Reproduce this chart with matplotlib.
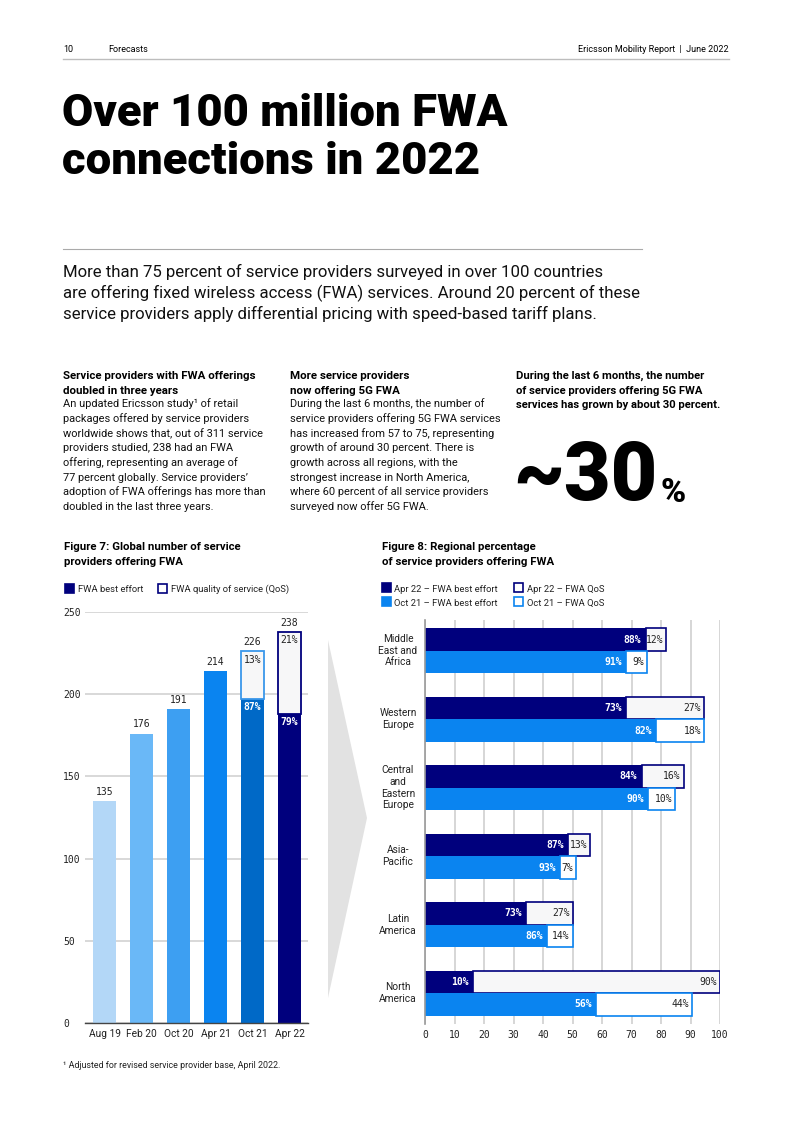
import matplotlib
matplotlib.use('Agg')
import matplotlib.pyplot as plt
from matplotlib.patches import Polygon, Rectangle
from matplotlib.lines import Line2D

# ---------------- data ----------------
periods = ['Aug 19', 'Feb 20', 'Oct 20', 'Apr 21', 'Oct 21', 'Apr 22']
totals = [135, 176, 191, 214, 226, 238]
global_best_effort = [135, 176, 191, 214, 197, 188]
global_qos = [0, 0, 0, 0, 29, 50]
global_be_pct = ['', '', '', '', '87%', '79%']
global_qos_pct = ['', '', '', '', '13%', '21%']

regions = ['Middle\nEast and\nAfrica', 'Western\nEurope', 'Central\nand\nEastern\nEurope',
           'Asia-\nPacific', 'Latin\nAmerica', 'North\nAmerica']
apr22_be = [74.8, 68.1, 73.4, 48.4, 34.2, 16.3]
apr22_qos = [6.9, 26.5, 14.3, 7.7, 15.8, 83.7]
oct21_be = [68.1, 78.2, 75.7, 45.9, 41.3, 57.9]
oct21_qos = [7.0, 16.4, 9.1, 5.2, 8.7, 32.6]
apr22_be_lbl = ['88%', '73%', '84%', '87%', '73%', '10%']
apr22_qos_lbl = ['12%', '27%', '16%', '13%', '27%', '90%']
oct21_be_lbl = ['91%', '82%', '90%', '93%', '86%', '56%']
oct21_qos_lbl = ['9%', '18%', '10%', '7%', '14%', '44%']

# ---------------- styling ----------------
NAVY = '#00007d'
BLUE = '#0a84f0'
bar_colors = ['#b3d7f7', '#6ab8f7', '#3d9ff2', '#0a84f0', '#0069c7', NAVY]
qos_edges = [None, None, None, None, '#3a97ea', NAVY]
QOS_FILL = '#f7f7f8'
SANS = 'Roboto'
MONO = 'DejaVu Sans Mono'

W, H = 793, 1122
fig = plt.figure(figsize=(W / 100, H / 100), dpi=100)
renderer = fig.canvas.get_renderer()
PT = 100 / 72.0  # px per point


def fx(x):
    return x / W


def fy(y):
    return 1 - y / H


def fit_size(s, width, weight='normal', family=SANS):
    t = fig.text(0, 0, s, fontsize=10, fontweight=weight, family=family)
    w = t.get_window_extent(renderer).width
    t.remove()
    return 10 * width / w


def txt(x, y, s, size, weight='normal', family=SANS, ha='left', va='baseline', color='black'):
    return fig.text(fx(x), fy(y), s, fontsize=size, fontweight=weight, family=family,
                    ha=ha, va=va, color=color)


def hline(x0, x1, y, color, lw):
    fig.add_artist(Line2D([fx(x0), fx(x1)], [fy(y), fy(y)], transform=fig.transFigure,
                          color=color, lw=lw))


def square(x, y, size, face, edge):
    fig.add_artist(Rectangle((fx(x), fy(y + size)), size / W, size / H, transform=fig.transFigure,
                             facecolor=face, edgecolor=edge, lw=1.2))


# ---------------- header ----------------
hs = fit_size('Ericsson Mobility Report  |  June 2022', 151)
txt(63, 52, '10', hs)
txt(108, 52, 'Forecasts', hs)
txt(729, 52, 'Ericsson Mobility Report  |  June 2022', hs, ha='right')
hline(63, 729, 59, '#bdbdbd', 1.0)

# ---------------- title ----------------
ts = fit_size('Over 100 million FWA', 445, weight='black')
txt(62, 126, 'Over 100 million FWA', ts, weight='black')
txt(62, 174, 'connections in 2022', ts, weight='black')
hline(63, 642, 249, '#aaaaaa', 0.8)

# ---------------- intro ----------------
intro = ['More than 75 percent of service providers surveyed in over 100 countries',
         'are offering fixed wireless access (FWA) services. Around 20 percent of these',
         'service providers apply differential pricing with speed-based tariff plans.']
isz = fit_size(intro[1], 579)
for i, line in enumerate(intro):
    txt(63, 277 + 21 * i, line, isz, color='#111111')

# ---------------- columns ----------------
col1_head = ['Service providers with FWA offerings', 'doubled in three years']
col1 = ['An updated Ericsson study\u00b9 of retail',
        'packages offered by service providers',
        'worldwide shows that, out of 311 service',
        'providers studied, 238 had an FWA',
        'offering, representing an average of',
        '77 percent globally. Service providers\u2019',
        'adoption of FWA offerings has more than',
        'doubled in the last three years.']
col2_head = ['More service providers', 'now offering 5G FWA']
col2 = ['During the last 6 months, the number of',
        'service providers offering 5G FWA services',
        'has increased from 57 to 75, representing',
        'growth of around 30 percent. There is',
        'growth across all regions, with the',
        'strongest increase in North America,',
        'where 60 percent of all service providers',
        'surveyed now offer 5G FWA.']
col3_head = ['During the last 6 months, the number',
             'of service providers offering 5G FWA',
             'services has grown by about 30 percent.']

bsz = fit_size(col1[6], 202)
hsz = fit_size(col1_head[0], 192, weight='bold')
body_y = [407, 422, 437, 451, 466, 481, 495, 510]
for x, head, body in [(63, col1_head, col1), (290, col2_head, col2)]:
    for i, line in enumerate(head):
        txt(x, 379 + 14.5 * i, line, hsz, weight='bold')
    for i, line in enumerate(body):
        txt(x, body_y[i], line, bsz, color='#111111')
c3 = fit_size(col3_head[2], 206, weight='bold')
for i, line in enumerate(col3_head):
    txt(516, 379 + 14.5 * i, line, c3, weight='bold')

bigsz = fit_size('~30', 145, weight='black')
txt(513, 500, '~30', bigsz, weight='black')
txt(660, 502, '%', bigsz * 0.42, weight='black')

# ---------------- figure titles & legends ----------------
fsz = fit_size('Figure 7: Global number of service', 177, weight='bold')
txt(64, 550, 'Figure 7: Global number of service', fsz, weight='bold')
txt(64, 565, 'providers offering FWA', fsz, weight='bold')
txt(382, 550, 'Figure 8: Regional percentage', fsz, weight='bold')
txt(382, 565, 'of service providers offering FWA', fsz, weight='bold')

lsz = fit_size('FWA quality of service (QoS)', 118)
square(65, 584, 9, NAVY, NAVY)
txt(78, 592, 'FWA best effort', lsz, color='#222222')
square(158, 584, 9, 'white', NAVY)
txt(171, 592, 'FWA quality of service (QoS)', lsz, color='#222222')

square(382, 583, 9, NAVY, NAVY)
txt(394, 592, 'Apr 22 \u2013 FWA best effort', lsz, color='#222222')
square(514, 583, 9, 'white', NAVY)
txt(527, 592, 'Apr 22 \u2013 FWA QoS', lsz, color='#222222')
square(382, 597, 9, BLUE, BLUE)
txt(394, 606, 'Oct 21 \u2013 FWA best effort', lsz, color='#222222')
square(514, 597, 9, 'white', BLUE)
txt(527, 606, 'Oct 21 \u2013 FWA QoS', lsz, color='#222222')

# ---------------- chevron ----------------
fig.add_artist(Polygon([(fx(328), fy(640)), (fx(367), fy(818)), (fx(328), fy(998))],
                       closed=True, transform=fig.transFigure, facecolor='#e2e2e2',
                       edgecolor='none'))

# ---------------- figure 7 ----------------
ax1 = fig.add_axes([fx(85), fy(1023), (308 - 85) / W, (1023 - 612) / H])
xs = list(range(len(periods)))
ax1.bar(xs, global_best_effort, width=0.62, color=bar_colors, zorder=3)
for i in xs:
    if global_qos[i] > 0:
        ax1.bar(i, global_qos[i], bottom=global_best_effort[i], width=0.62,
                color=QOS_FILL, edgecolor=qos_edges[i], lw=1.3, zorder=3)
        ax1.annotate(global_qos_pct[i], xy=(i, totals[i]), xytext=(0, -2.5),
                     textcoords='offset points', ha='center', va='top',
                     family=MONO, fontsize=7, color='#222222', zorder=4)
        ax1.annotate(global_be_pct[i], xy=(i, global_best_effort[i]), xytext=(0, -2),
                     textcoords='offset points', ha='center', va='top',
                     family=MONO, fontsize=7, color='white', fontweight='bold', zorder=4)
    ax1.annotate(str(totals[i]), xy=(i, totals[i]), xytext=(0, 3),
                 textcoords='offset points', ha='center', va='bottom',
                 family=MONO, fontsize=7, color='#222222')
ax1.set_xlim(-0.53, 5.5)
ax1.set_ylim(0, 250)
ax1.set_yticks([0, 50, 100, 150, 200, 250])
ax1.set_xticks(xs)
ax1.set_xticklabels(periods, family=SANS, fontsize=7.3, color='#222222')
for lab in ax1.get_yticklabels():
    lab.set_horizontalalignment('left')
    lab.set_family(MONO)
    lab.set_fontsize(7)
    lab.set_color('#222222')
ax1.tick_params(axis='y', length=0, pad=(85 - 63) / PT)
ax1.tick_params(axis='x', length=0, pad=4)
ax1.grid(axis='y', color='#d6d6d6', lw=1.3, zorder=0)
for s in ['top', 'right', 'left']:
    ax1.spines[s].set_visible(False)
ax1.spines['bottom'].set_color('#444444')
ax1.spines['bottom'].set_linewidth(1.0)
ax1.spines['bottom'].set_zorder(5)

# ---------------- figure 8 ----------------
ax2 = fig.add_axes([fx(425), fy(1024), (720 - 425) / W, (1024 - 620) / H])
ys = list(range(len(regions)))
h = 0.33
y_apr = [y - h / 2 for y in ys]
y_oct = [y + h / 2 for y in ys]
ax2.barh(y_apr, apr22_be, height=h, color=NAVY, zorder=3)
ax2.barh(y_apr, apr22_qos, left=apr22_be, height=h, color=QOS_FILL, edgecolor=NAVY,
         lw=1.2, zorder=3)
ax2.barh(y_oct, oct21_be, height=h, color=BLUE, zorder=3)
ax2.barh(y_oct, oct21_qos, left=oct21_be, height=h, color='white', edgecolor=BLUE,
         lw=1.2, zorder=3)
for i in ys:
    ax2.annotate(apr22_be_lbl[i], xy=(apr22_be[i], y_apr[i]), xytext=(-3, 0),
                 textcoords='offset points', ha='right', va='center', family=MONO,
                 fontsize=7, color='white', fontweight='bold', zorder=4)
    ax2.annotate(apr22_qos_lbl[i], xy=(apr22_be[i] + apr22_qos[i], y_apr[i]), xytext=(-2, 0),
                 textcoords='offset points', ha='right', va='center', family=MONO,
                 fontsize=7, color='#222222', zorder=4)
    ax2.annotate(oct21_be_lbl[i], xy=(oct21_be[i], y_oct[i]), xytext=(-3, 0),
                 textcoords='offset points', ha='right', va='center', family=MONO,
                 fontsize=7, color='white', fontweight='bold', zorder=4)
    ax2.annotate(oct21_qos_lbl[i], xy=(oct21_be[i] + oct21_qos[i], y_oct[i]), xytext=(-2, 0),
                 textcoords='offset points', ha='right', va='center', family=MONO,
                 fontsize=7, color='#222222', zorder=4)
    ax2.annotate(regions[i], xy=(0, i), xytext=(-27 / PT, 0), textcoords='offset points',
                 ha='center', va='center', family=SANS, fontsize=7.3, color='#222222',
                 linespacing=1.2, annotation_clip=False)
ax2.set_xlim(0, 100)
ax2.set_ylim(5.45, -0.45)
ax2.set_xticks(range(0, 101, 10))
ax2.set_yticks([])
for lab in ax2.get_xticklabels():
    lab.set_family(MONO)
    lab.set_fontsize(7)
    lab.set_color('#222222')
ax2.tick_params(axis='x', length=0, pad=4)
ax2.grid(axis='x', color='#cfcfcf', lw=1.2, zorder=0)
for s in ['top', 'right', 'bottom']:
    ax2.spines[s].set_visible(False)
ax2.spines['left'].set_color('#9a9a9a')
ax2.spines['left'].set_linewidth(1.2)
ax2.spines['left'].set_zorder(5)

# ---------------- footnote ----------------
txt(63, 1068, '\u00b9 Adjusted for revised service provider base, April 2022.',
    fit_size('\u00b9 Adjusted for revised service provider base, April 2022.', 219),
    color='#222222')

fig.savefig('out.png', dpi=100)
